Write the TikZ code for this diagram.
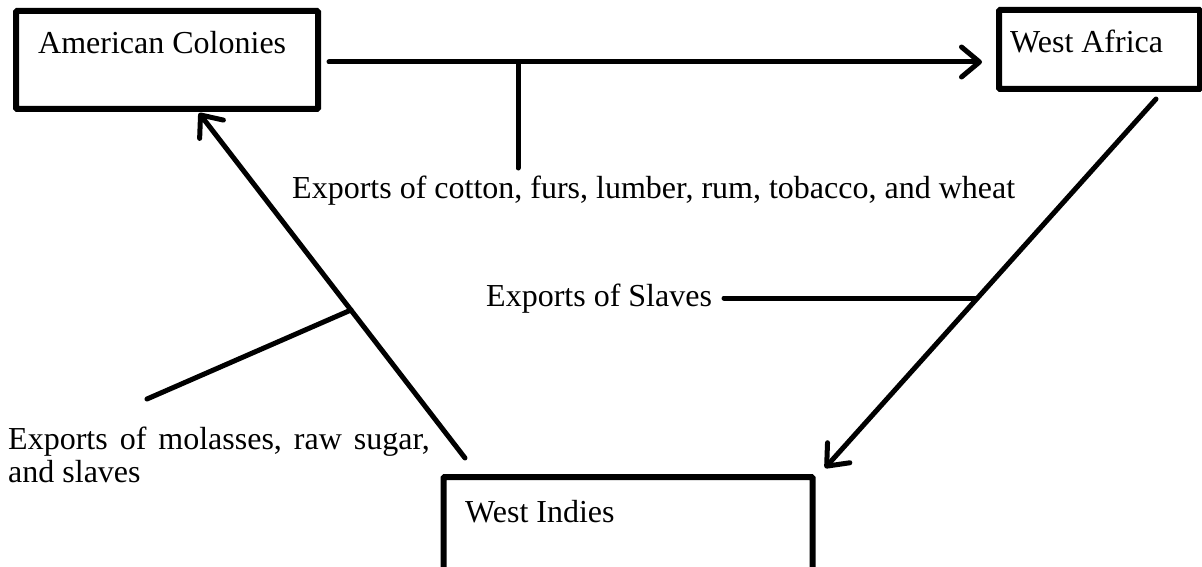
\documentclass[tikz,border=0pt]{standalone}
\usepackage{fontspec}
\setmainfont{Liberation Serif}
\usetikzlibrary{arrows.meta}
\newcommand\labelfont{\fontsize{32}{37}\selectfont}
\tikzset{
  box/.style={draw, line width=6pt, inner sep=0pt, rounded corners=1pt},
  link/.style={line width=5pt, line cap=round},
  flow/.style={link, -{Straight Barb[length=18pt,width=30pt,line cap=round,line join=round]}},
  lbl/.style={font=\labelfont, anchor=base west, inner sep=0pt},
}
\begin{document}
\begin{tikzpicture}[x=1pt,y=-1pt]
  \useasboundingbox (0,0) rectangle (1202,567);
  \clip (0,0) rectangle (1202,567);
  \fill[white] (0,0) rectangle (1202,567);

  % the three regions
  \node[box, minimum width=302pt, minimum height=98pt] (ac) at (167,60) {};
  \node[box, minimum width=201pt, minimum height=79pt] (wa) at (1099.5,49.5) {};
  \node[box, minimum width=369pt, minimum height=122pt] (wi) at (628,538) {};

  \node[lbl] (acT) at (38,54) {American Colonies};
  \node[lbl] (waT) at (1010,53) {West Africa};
  \node[lbl] (wiT) at (465,522) {West Indies};

  % trade route end points
  \coordinate (acOut) at (329,62);
  \coordinate (waIn)  at (982,62);
  \coordinate (waOut) at (1156,99);
  \coordinate (wiIn)  at (825,468);
  \coordinate (wiOut) at (465,458);
  \coordinate (acIn)  at (199,113);

  % routes
  \draw[flow] (acOut) -- (waIn);
  \draw[flow] (waOut) -- (wiIn);
  \draw[flow] (wiOut) -- (acIn);

  % cargo labels and their leaders
  \coordinate (j1) at (518,62);
  \coordinate (e1) at (518,168);
  \draw[link] (j1) -- (e1);
  \node[lbl] (cargo1) at (292,198) {Exports of cotton, furs, lumber, rum, tobacco, and wheat};

  \coordinate (j2) at (977,298);
  \coordinate (e2) at (724,298);
  \draw[link] (j2) -- (e2);
  \node[lbl] (cargo2) at (486,306) {Exports of Slaves};

  \coordinate (j3) at (351,310);
  \coordinate (e3) at (147,399);
  \draw[link] (j3) -- (e3);
  \node[lbl] (cargo3a) at (8,449) {\spaceskip=12pt Exports of molasses, raw sugar,};
  \node[lbl] (cargo3b) at (8,482) {and slaves};
\end{tikzpicture}
\end{document}
